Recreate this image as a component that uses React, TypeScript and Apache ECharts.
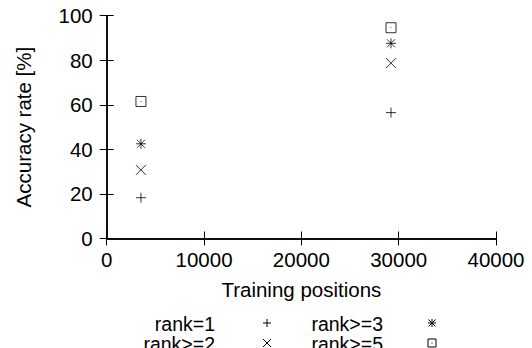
import React, { useEffect, useRef } from "react";
import * as echarts from "echarts";

const xPositions = [3520, 29210];
const rank1 = [18.3, 56.5];
const rank2 = [30.8, 78.7];
const rank3 = [42.5, 87.6];
const rank5 = [61.5, 94.6];
const seriesNames = ["rank=1", "rank>=2", "rank>=3", "rank>=5"];
const xTicks = { min: 0, max: 40000, interval: 10000 };
const yTicks = { min: 0, max: 100, interval: 20 };

const FONT = "'Liberation Sans', Arial, sans-serif";
const FS = 20.5;
const LFS = 19.5;

const SYM_PLUS = "path://M5,0 L5,10 M0,5 L10,5";
const SYM_CROSS = "path://M0,0 L10,10 M10,0 L0,10";
const SYM_STAR = "path://M5,0 L5,10 M0,5 L10,5 M1,1 L9,9 M9,1 L1,9";
const SYM_BOX = "path://M0,0 L10,0 L10,10 L0,10 Z M5,4.6 L5,5.4";
const symbols = [SYM_PLUS, SYM_CROSS, SYM_STAR, SYM_BOX];
const values = [rank1, rank2, rank3, rank5];

function legendIcon(kind: number, cx: number, cy: number) {
  const h = 4;
  const st = { stroke: "#000", lineWidth: 1, fill: "none" };
  const line = (x1: number, y1: number, x2: number, y2: number) => ({
    type: "line",
    shape: { x1, y1, x2, y2 },
    style: st,
  });
  if (kind === 0) return [line(cx - h, cy, cx + h, cy), line(cx, cy - h, cx, cy + h)];
  if (kind === 1) return [line(cx - h, cy - h, cx + h, cy + h), line(cx + h, cy - h, cx - h, cy + h)];
  if (kind === 2)
    return [
      line(cx - h, cy, cx + h, cy),
      line(cx, cy - h, cx, cy + h),
      line(cx - 3.5, cy - 3.5, cx + 3.5, cy + 3.5),
      line(cx + 3.5, cy - 3.5, cx - 3.5, cy + 3.5),
    ];
  return [
    { type: "rect", shape: { x: cx - h, y: cy - h, width: 2 * h, height: 2 * h }, style: st },
    { type: "rect", shape: { x: cx - 0.5, y: cy - 0.5, width: 1, height: 1 }, style: { fill: "#000" } },
  ];
}

export default function App() {
  const ref = useRef<HTMLDivElement>(null);
  useEffect(() => {
    if (!ref.current) return;
    const chart = echarts.init(ref.current, null, { renderer: "svg" });
    const axisLine = { show: true, lineStyle: { color: "#000", width: 1.5 } };
    const axisTick = { show: true, inside: true, length: 7, lineStyle: { color: "#000", width: 1 } };
    const legendPos = [
      { tx: 215, sx: 267, y: 323.5, sy: 323 },
      { tx: 215, sx: 267, y: 344, sy: 343 },
      { tx: 383, sx: 432, y: 323.5, sy: 323 },
      { tx: 383, sx: 432, y: 344, sy: 343 },
    ];
    const graphics: any[] = [];
    seriesNames.forEach((n, i) => {
      const p = legendPos[i];
      graphics.push({
        type: "text",
        x: p.tx,
        y: p.y,
        style: {
          text: n,
          font: `${LFS}px ${FONT}`,
          lineHeight: 18,
          fill: "#000",
          align: "right",
          verticalAlign: "middle",
        },
      });
      legendIcon(i, p.sx, p.sy).forEach((g) => graphics.push(g));
    });
    chart.setOption({
      animation: false,
      backgroundColor: "#fff",
      grid: { left: 106.7, right: 36, top: 15.7, bottom: 109.5 },
      xAxis: [
        {
          type: "value",
          position: "bottom",
          ...xTicks,
          name: "Training positions",
          nameLocation: "middle",
          nameGap: 40,
          nameTextStyle: { color: "#000", fontFamily: FONT, fontSize: FS },
          axisLine,
          axisTick,
          splitLine: { show: false },
          axisLabel: {
            color: "#000",
            fontFamily: FONT,
            fontSize: FS,
            margin: 10,
            formatter: (v: number) => String(v),
          },
        },
        {
          type: "value",
          position: "top",
          ...xTicks,
          axisLine,
          axisTick,
          splitLine: { show: false },
          axisLabel: { show: false },
        },
      ],
      yAxis: [
        {
          type: "value",
          position: "left",
          ...yTicks,
          name: "Accuracy rate [%]",
          nameLocation: "middle",
          nameGap: 73,
          nameTextStyle: { color: "#000", fontFamily: FONT, fontSize: FS },
          axisLine,
          axisTick,
          splitLine: { show: false },
          axisLabel: { color: "#000", fontFamily: FONT, fontSize: FS, margin: 14 },
        },
        {
          type: "value",
          position: "right",
          ...yTicks,
          axisLine,
          axisTick,
          splitLine: { show: false },
          axisLabel: { show: false },
        },
      ],
      series: seriesNames.map((name, i) => ({
        name,
        type: "scatter",
        xAxisIndex: 0,
        yAxisIndex: 0,
        symbol: symbols[i],
        symbolSize: 10,
        itemStyle: { color: "none", borderColor: "#000", borderWidth: 1 },
        data: xPositions.map((x, j) => [x, values[i][j]]),
      })),
      graphic: graphics,
    });
    return () => chart.dispose();
  }, []);
  return (
    <div
      ref={ref}
      style={{ position: "fixed", left: 0, top: 0, width: 532, height: 348 }}
    />
  );
}
